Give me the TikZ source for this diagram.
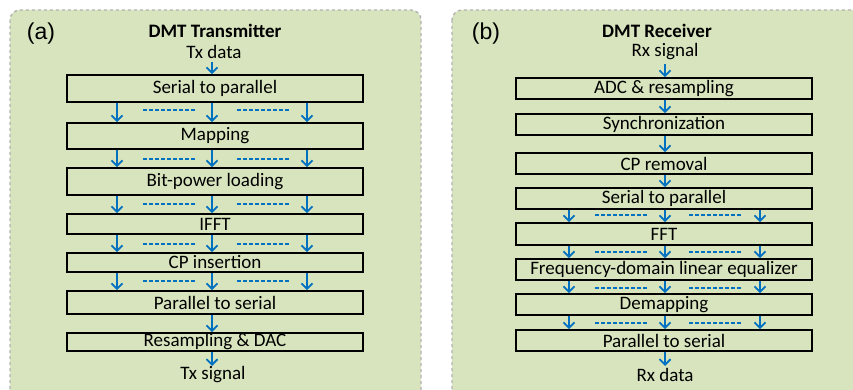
\documentclass[tikz,border=0pt]{standalone}
\usepackage{fontspec}
\setmainfont{Carlito}
\newfontfamily\arialfont{Liberation Sans}
\usetikzlibrary{arrows.meta}
\definecolor{panelgreen}{HTML}{D7E4BD}
\definecolor{panelborder}{HTML}{B3B3B3}
\definecolor{arrowblue}{HTML}{0070C0}
\tikzset{
  panel/.style={draw=panelborder, fill=panelgreen, line width=1.4pt, dash pattern=on 3pt off 3pt, rounded corners=10pt},
  blk/.style={draw=black, line width=1.8pt, inner sep=0pt, font=\fontsize{19}{21}\selectfont},
  lbl/.style={inner sep=0pt, font=\fontsize{19}{21}\selectfont},
  ttl/.style={inner sep=0pt, font=\fontsize{19}{21}\selectfont\bfseries},
  tag/.style={inner sep=0pt, font=\arialfont\fontsize{23}{25}\selectfont},
  arr/.style={draw=arrowblue, line width=1.8pt, -{Straight Barb[length=5.5pt,width=11pt,line width=1.8pt]}},
  dsh/.style={draw=arrowblue, line width=2pt, dash pattern=on 4pt off 2pt},
}
\begin{document}
\begin{tikzpicture}[x=1pt,y=-1pt]
\clip (0,0) rectangle (853,390);
\useasboundingbox (0,0) rectangle (853,390);
\fill[white] (0,0) rectangle (853,390);
% panels
\draw[panel] (10,10) rectangle (421,400);
\draw[panel] (452,10) rectangle (870,400);

% ---------- left: transmitter
\node[tag] (ta) at (41,34) {(a)};
\node[ttl] (tt) at (215,31) {DMT Transmitter};
\node[lbl] (tin) at (214,52) {Tx data};
\newcommand{\lbox}[4]{\node[blk, minimum width=296pt, minimum height=#3pt] (#1) at (215,#2) {#4};}
\lbox{t1}{88.5}{27}{Serial to parallel}
\lbox{t2}{136}{26}{Mapping}
\lbox{t3}{181.5}{27}{Bit-power loading}
\lbox{t4}{224}{20}{IFFT}
\lbox{t5}{262.5}{19}{CP insertion}
\lbox{t6}{302.5}{23}{Parallel to serial}
\lbox{t7}{342}{18}{Resampling \& DAC}
\node[lbl] (tout) at (213,375) {Tx signal};

\coordinate (tinA) at (212,62);
\draw[arr] (tinA) -- (t1.north -| 212,0);
\foreach \u/\l/\y in {t1/t2/110,t2/t3/159,t3/t4/204,t4/t5/244,t5/t6/281}{
  \draw[arr] (\u.south -| 117,0) -- (\l.north -| 117,0);
  \draw[arr] (\u.south -| 212,0) -- (\l.north -| 212,0);
  \draw[arr] (\u.south -| 307,0) -- (\l.north -| 307,0);
  \draw[dsh] (143,\y) -- (195,\y);
  \draw[dsh] (237,\y) -- (289,\y);
}
\draw[arr] (t6.south -| 212,0) -- (t7.north -| 212,0);
\coordinate (toutA) at (212,366);
\draw[arr] (t7.south -| 212,0) -- (toutA);

% ---------- right: receiver
\node[tag] (rb) at (486,34) {(b)};
\node[ttl] (rt) at (657,31) {DMT Receiver};
\node[lbl] (rin) at (665,52) {Rx signal};
\newcommand{\rbox}[4]{\node[blk, minimum width=296pt, minimum height=#3pt] (#1) at (664,#2) {#4};}
\rbox{r1}{88.5}{21}{ADC \& resampling}
\rbox{r2}{124.5}{21}{Synchronization}
\rbox{r3}{163.5}{21}{CP removal}
\rbox{r4}{198.5}{21}{Serial to parallel}
\rbox{r5}{234}{22}{FFT}
\rbox{r6}{269.5}{21}{Frequency-domain linear equalizer}
\rbox{r7}{304.5}{21}{Demapping}
\rbox{r8}{340.5}{21}{Parallel to serial}
\node[lbl] (rout) at (665,375) {Rx data};

\coordinate (rinA) at (665,64);
\draw[arr] (rinA) -- (r1.north -| 665,0);
\draw[arr] (r1.south -| 665,0) -- (r2.north -| 665,0);
\draw[arr] (r2.south -| 665,0) -- (r3.north -| 665,0);
\draw[arr] (r3.south -| 665,0) -- (r4.north -| 665,0);
\foreach \u/\l/\y in {r4/r5/215,r5/r6/252,r6/r7/288,r7/r8/323}{
  \draw[arr] (\u.south -| 569,0) -- (\l.north -| 569,0);
  \draw[arr] (\u.south -| 665,0) -- (\l.north -| 665,0);
  \draw[arr] (\u.south -| 760,0) -- (\l.north -| 760,0);
  \draw[dsh] (595,\y) -- (647,\y);
  \draw[dsh] (689,\y) -- (741,\y);
}
\coordinate (routA) at (665,366);
\draw[arr] (r8.south -| 665,0) -- (routA);
\end{tikzpicture}
\end{document}
